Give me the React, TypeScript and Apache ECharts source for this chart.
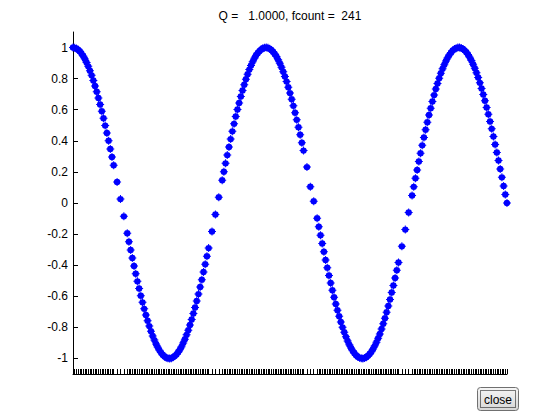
import React, { useEffect, useRef } from "react";
import * as echarts from "echarts";

// Abscissae of the evaluated points (also used as the x-axis ticks)
const xs: number[] = [
  0, 0.055, 0.110, 0.166, 0.221, 0.276, 0.331, 0.387, 0.442, 0.497, 0.552, 0.607, 0.663, 0.718, 0.773, 0.828, 0.884, 0.939, 0.994, 1.049, 1.104, 1.160, 1.215, 1.270, 1.325,
  1.436, 1.546, 1.657, 1.767,
  1.822, 1.878, 1.933, 1.988, 2.043, 2.098, 2.154, 2.209, 2.264, 2.319, 2.375, 2.430, 2.485, 2.540, 2.596, 2.651, 2.706, 2.761, 2.816, 2.872, 2.927, 2.982, 3.037, 3.093,
  3.148, 3.203, 3.258, 3.313, 3.369, 3.424, 3.479, 3.534, 3.590, 3.645, 3.700, 3.755, 3.810, 3.866, 3.921, 3.976, 4.031, 4.087, 4.142, 4.197, 4.252, 4.307, 4.363, 4.418,
  4.528, 4.639, 4.749, 4.860,
  4.915, 4.970, 5.025, 5.081, 5.136, 5.191, 5.246, 5.301, 5.357, 5.412, 5.467, 5.522, 5.578, 5.633, 5.688, 5.743, 5.798, 5.854, 5.909, 5.964, 6.019, 6.075, 6.130, 6.185,
  6.240, 6.295, 6.351, 6.406, 6.461, 6.516, 6.572, 6.627, 6.682, 6.737, 6.792, 6.848, 6.903, 6.958, 7.013, 7.069, 7.124, 7.179, 7.234, 7.289, 7.345, 7.400, 7.455, 7.510,
  7.621, 7.731, 7.842, 7.952,
  8.007, 8.063, 8.118, 8.173, 8.228, 8.283, 8.339, 8.394, 8.449, 8.504, 8.560, 8.615, 8.670, 8.725, 8.780, 8.836, 8.891, 8.946, 9.001, 9.057, 9.112, 9.167, 9.222, 9.277,
  9.333, 9.388, 9.443, 9.498, 9.554, 9.609, 9.664, 9.719, 9.774, 9.830, 9.885, 9.940, 9.995, 10.051, 10.106, 10.161, 10.216, 10.271, 10.327, 10.382, 10.437, 10.492, 10.548, 10.603,
  10.713, 10.824, 10.934, 11.045,
  11.100, 11.155, 11.210, 11.266, 11.321, 11.376, 11.431, 11.486, 11.542, 11.597, 11.652, 11.707, 11.763, 11.818, 11.873, 11.928, 11.983, 12.039, 12.094, 12.149, 12.204, 12.260, 12.315, 12.370,
  12.425, 12.480, 12.536, 12.591, 12.646, 12.701, 12.757, 12.812, 12.867, 12.922, 12.977, 13.033, 13.088, 13.143, 13.198, 13.254, 13.309, 13.364, 13.419, 13.474, 13.530, 13.585, 13.640, 13.695,
  13.751, 13.806, 13.861, 13.916, 13.971, 14.027, 14.082, 14.137,
];

// Function values at those points
const ys: number[] = [
  1.000, 0.998, 0.994, 0.986, 0.976, 0.962, 0.946, 0.926, 0.904, 0.879, 0.851, 0.821, 0.788, 0.753, 0.716, 0.676, 0.634, 0.591, 0.545, 0.498, 0.450, 0.400, 0.348, 0.296, 0.243,
  0.135, 0.025, -0.086, -0.195,
  -0.249, -0.302, -0.354, -0.405, -0.455, -0.504, -0.550, -0.596, -0.639, -0.681, -0.720, -0.757, -0.792, -0.825, -0.855, -0.882, -0.907, -0.928, -0.948, -0.964, -0.977, -0.987, -0.995, -0.999,
  -1.000, -0.998, -0.993, -0.985, -0.974, -0.960, -0.944, -0.924, -0.901, -0.876, -0.848, -0.818, -0.785, -0.749, -0.711, -0.672, -0.630, -0.586, -0.540, -0.493, -0.444, -0.394, -0.343, -0.290,
  -0.183, -0.074, 0.037, 0.147,
  0.201, 0.255, 0.308, 0.360, 0.411, 0.461, 0.509, 0.556, 0.601, 0.644, 0.685, 0.724, 0.761, 0.796, 0.828, 0.858, 0.885, 0.909, 0.931, 0.950, 0.965, 0.978, 0.988, 0.995,
  0.999, 1.000, 0.998, 0.992, 0.984, 0.973, 0.959, 0.942, 0.921, 0.899, 0.873, 0.845, 0.814, 0.781, 0.745, 0.707, 0.667, 0.625, 0.581, 0.535, 0.488, 0.439, 0.388, 0.337,
  0.231, 0.105, 0.012, -0.098,
  -0.153, -0.207, -0.261, -0.314, -0.366, -0.416, -0.466, -0.514, -0.561, -0.606, -0.649, -0.690, -0.728, -0.765, -0.800, -0.831, -0.861, -0.888, -0.912, -0.933, -0.951, -0.967, -0.980, -0.989,
  -0.996, -0.999, -1.000, -0.997, -0.992, -0.983, -0.971, -0.957, -0.939, -0.919, -0.896, -0.870, -0.842, -0.810, -0.777, -0.741, -0.703, -0.662, -0.620, -0.576, -0.530, -0.482, -0.433, -0.383,
  -0.279, -0.171, -0.061, 0.049,
  0.104, 0.159, 0.213, 0.267, 0.320, 0.371, 0.422, 0.471, 0.519, 0.566, 0.610, 0.653, 0.694, 0.733, 0.769, 0.803, 0.835, 0.864, 0.890, 0.914, 0.935, 0.953, 0.968, 0.981,
  0.990, 0.996, 0.9995, 1.000, 0.997, 0.991, 0.982, 0.970, 0.955, 0.937, 0.917, 0.893, 0.867, 0.838, 0.807, 0.773, 0.737, 0.698, 0.658, 0.615, 0.571, 0.525, 0.477, 0.428,
  0.377, 0.325, 0.273, 0.219, 0.165, 0.110, 0.055, 0,
];

const yTickValues = [-1, -0.8, -0.6, -0.4, -0.2, 0, 0.2, 0.4, 0.6, 0.8, 1];
const xRange = [0, 14.1372];
const yRange = [-1.1, 1.1];
const titleText = "Q =   1.0000, fcount =  241";
const buttonLabel = "close";

const FONT = '"Liberation Sans", Arial, Helvetica, sans-serif';
const ASTERISK =
  "path://M7,0H9V7H16V9H9V16H7V9H0V7H7Z M1.6,8A6.4,6.4 0 1,1 14.4,8A6.4,6.4 0 1,1 1.6,8Z";

export default function App() {
  const ref = useRef<HTMLDivElement>(null);

  useEffect(() => {
    if (!ref.current) return;
    const chart = echarts.init(ref.current, null, { renderer: "svg", width: 560, height: 420 });
    const points = xs.map((x, i) => [x, ys[i]]);

    chart.setOption({
      animation: false,
      backgroundColor: "#ffffff",
      grid: { left: 73, right: 53, top: 32, bottom: 46, containLabel: false },
      xAxis: {
        type: "value",
        min: xRange[0],
        max: xRange[1],
        axisLine: { show: true, onZero: false, lineStyle: { color: "#000", width: 1 } },
        axisTick: {
          show: true,
          inside: true,
          length: 5,
          customValues: xs,
          lineStyle: { color: "#000", width: 1 },
        },
        axisLabel: { show: false },
        splitLine: { show: false },
      },
      yAxis: {
        type: "value",
        min: yRange[0],
        max: yRange[1],
        axisLine: { show: true, onZero: false, lineStyle: { color: "#000", width: 1 } },
        axisTick: {
          show: true,
          inside: true,
          length: 5,
          customValues: yTickValues,
          lineStyle: { color: "#000", width: 1 },
        },
        axisLabel: {
          show: true,
          customValues: yTickValues,
          color: "#000",
          fontSize: 12,
          fontFamily: FONT,
          margin: 5,
        },
        splitLine: { show: false },
      },
      series: [
        {
          type: "scatter",
          data: points,
          symbol: ASTERISK,
          symbolSize: 8,
          symbolKeepAspect: true,
          itemStyle: { color: "#0000ff", opacity: 1 },
          emphasis: { disabled: true },
        },
      ],
      graphic: [
        {
          type: "text",
          x: 290,
          y: 16,
          style: {
            text: titleText,
            fill: "#000",
            font: `12px ${FONT}`,
            align: "center",
            verticalAlign: "middle",
            textAlign: "center",
            textVerticalAlign: "middle",
          },
        },
        {
          type: "rect",
          shape: { x: 477.5, y: 387.5, width: 41, height: 23, r: 3 },
          style: {
            fill: new echarts.graphic.LinearGradient(0, 0, 0, 1, [
              { offset: 0, color: "#f6f6f6" },
              { offset: 1, color: "#d6d6d6" },
            ]),
            stroke: "#707070",
            lineWidth: 1,
          },
        },
        {
          type: "rect",
          shape: { x: 480.5, y: 390.5, width: 35, height: 17 },
          style: { fill: "none", stroke: "#000", lineWidth: 1, lineDash: [1, 1] },
        },
        {
          type: "text",
          x: 498,
          y: 399.5,
          style: {
            text: buttonLabel,
            fill: "#000",
            font: `12px ${FONT}`,
            align: "center",
            verticalAlign: "middle",
            textAlign: "center",
            textVerticalAlign: "middle",
          },
        },
      ],
    });

    return () => chart.dispose();
  }, []);

  return (
    <div
      ref={ref}
      style={{ position: "fixed", left: 0, top: 0, width: 560, height: 420, background: "#fff" }}
    />
  );
}
